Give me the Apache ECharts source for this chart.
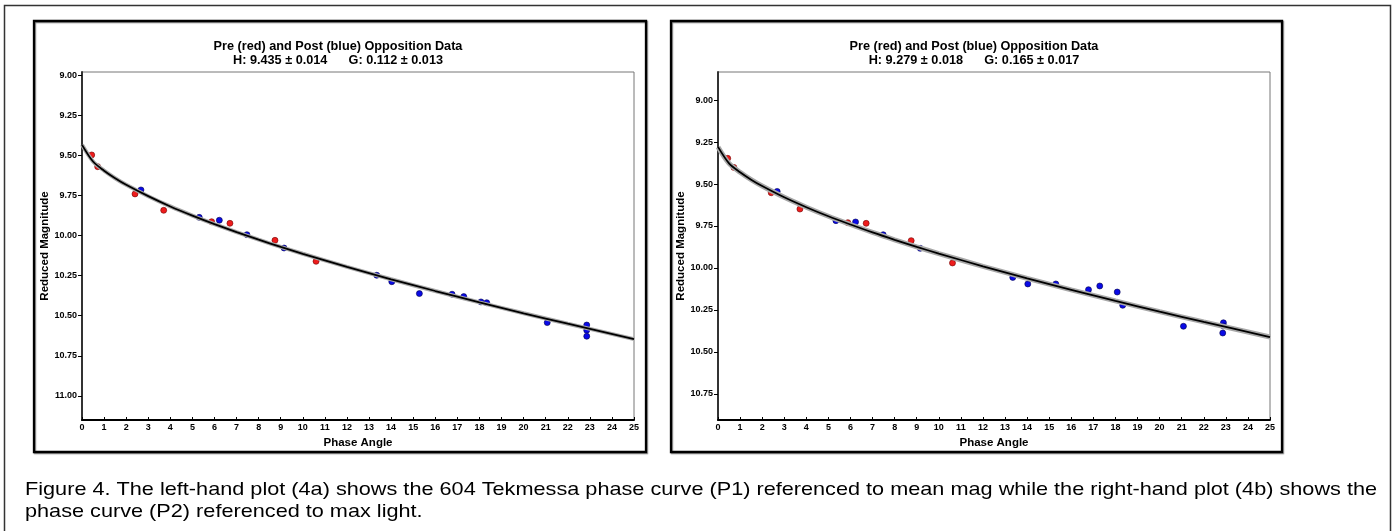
<!DOCTYPE html>
<html>
<head>
<meta charset="utf-8">
<script src="https://cdn.jsdelivr.net/npm/echarts@6.0.0/dist/echarts.min.js"></script>
<style>
html,body{margin:0;padding:0;background:#fff}
#chart{width:1395px;height:531px}
</style>
</head>
<body>
<div id="chart"></div>
<script>
// phase angle (deg), reduced magnitude
var leftPre = [[0.44,9.498],[0.71,9.571],[2.40,9.741],[3.70,9.843],[5.87,9.914],[6.70,9.924],[8.74,10.030],[10.60,10.161]];
var leftPost = [[2.67,9.716],[5.31,9.887],[6.22,9.905],[7.47,9.995],[9.15,10.078],[13.35,10.248],[14.03,10.288],[15.28,10.362],[16.76,10.366],[17.29,10.381],[18.07,10.414],[18.33,10.419],[21.07,10.543],[22.86,10.558],[22.86,10.591],[22.86,10.628]];
var rightPre = [[0.44,9.347],[0.72,9.401],[2.41,9.552],[3.71,9.649],[5.88,9.730],[6.71,9.734],[8.75,9.837],[10.62,9.970]];
var rightPost = [[2.68,9.544],[5.34,9.718],[6.23,9.726],[7.48,9.802],[9.16,9.883],[13.35,10.056],[14.03,10.095],[15.30,10.095],[16.78,10.129],[17.29,10.107],[18.08,10.143],[18.33,10.222],[21.08,10.347],[22.89,10.326],[22.89,10.345],[22.86,10.387]];

// fitted phase curves
var fitAngles = [0,0.5,1,1.5,2,3,4,5,6,7,8,9,10,12,14,16,18,20,22,25];
var leftFit = [9.435,9.539,9.596,9.643,9.684,9.755,9.819,9.876,9.929,9.979,10.026,10.071,10.114,10.196,10.273,10.346,10.417,10.485,10.550,10.646];
var rightFit = [9.279,9.377,9.430,9.474,9.512,9.579,9.638,9.692,9.741,9.788,9.832,9.874,9.914,9.990,10.062,10.130,10.196,10.260,10.321,10.411];

var leftYTicks = [9.00,9.25,9.50,9.75,10.00,10.25,10.50,10.75,11.00];
var rightYTicks = [9.00,9.25,9.50,9.75,10.00,10.25,10.50,10.75];

var leftTitle = ['Pre (red) and Post (blue) Opposition Data', 'H: 9.435 \u00b1 0.014      G: 0.112 \u00b1 0.013'];
var rightTitle = ['Pre (red) and Post (blue) Opposition Data', 'H: 9.279 \u00b1 0.018      G: 0.165 \u00b1 0.017'];
var caption = ['Figure 4. The left-hand plot (4a) shows the 604 Tekmessa phase curve (P1) referenced to mean mag while the right-hand plot (4b) shows the',
               'phase curve (P2) referenced to max light.'];

var FONT = '"Liberation Sans", Arial, sans-serif';

function pairUp(xs, ys) {
    var out = [];
    for (var i = 0; i < xs.length; i++) {
        out.push([xs[i], ys[i]]);
    }
    return out;
}

function makeX(idx) {
    return {
        type: 'value', gridIndex: idx, min: 0, max: 25, interval: 1,
        name: 'Phase Angle', nameLocation: 'middle', nameGap: 13,
        nameTextStyle: { fontFamily: FONT, fontWeight: 'bold', fontSize: 11.5, color: '#000' },
        axisLine: { show: true, onZero: false, lineStyle: { color: '#000', width: 2 } },
        axisTick: { show: true, inside: true, length: 3, lineStyle: { color: '#000', width: 1 } },
        axisLabel: { fontFamily: FONT, fontWeight: 'bold', fontSize: 9, color: '#000', margin: 3 },
        splitLine: { show: false }
    };
}

function makeY(idx, min, max, ticks) {
    return {
        type: 'value', gridIndex: idx, inverse: true, min: min, max: max,
        name: 'Reduced Magnitude', nameLocation: 'middle', nameGap: 29,
        nameTextStyle: { fontFamily: FONT, fontWeight: 'bold', fontSize: 11.5, color: '#000' },
        axisLine: { show: true, onZero: false, lineStyle: { color: '#333', width: 2 } },
        axisTick: { show: true, inside: false, length: 4, customValues: ticks, lineStyle: { color: '#000', width: 1 } },
        axisLabel: {
            fontFamily: FONT, fontWeight: 'bold', fontSize: 9, color: '#000', margin: 5,
            customValues: ticks,
            formatter: function (v) { return v.toFixed(2); }
        },
        splitLine: { show: false }
    };
}

function fitSeries(idx, data, halo) {
    return [{
        type: 'line', xAxisIndex: idx, yAxisIndex: idx, data: data, showSymbol: false,
        smooth: 0.3, silent: true, lineStyle: { color: '#a8a8a8', width: halo }
    }, {
        type: 'line', xAxisIndex: idx, yAxisIndex: idx, data: data, showSymbol: false,
        smooth: 0.3, silent: true, lineStyle: { color: '#000', width: 1.8 }
    }];
}

function dotSeries(idx, data, fill, edge) {
    return {
        type: 'scatter', xAxisIndex: idx, yAxisIndex: idx, data: data,
        symbol: 'circle', symbolSize: 6,
        itemStyle: { color: fill, borderColor: edge, borderWidth: 0.6, opacity: 1 }
    };
}

function titleText(cx, lines) {
    return [{
        type: 'text', x: cx, y: 46.5,
        style: { text: lines[0], fill: '#000', font: 'bold 12.7px ' + FONT, textAlign: 'center', textVerticalAlign: 'middle' }
    }, {
        type: 'text', x: cx, y: 60.5,
        style: { text: lines[1], fill: '#000', font: 'bold 12.7px ' + FONT, textAlign: 'center', textVerticalAlign: 'middle' }
    }];
}

var chart = echarts.init(document.getElementById('chart'));

var series = [];
series = series.concat(fitSeries(0, pairUp(fitAngles, leftFit), 4));
series = series.concat(fitSeries(1, pairUp(fitAngles, rightFit), 5));
series.push(dotSeries(0, leftPre, '#ee1c1c', '#700000'));
series.push(dotSeries(0, leftPost, '#0a0ae6', '#00004a'));
series.push(dotSeries(1, rightPre, '#ee1c1c', '#700000'));
series.push(dotSeries(1, rightPost, '#0a0ae6', '#00004a'));

var graphics = [
    // outer figure frame
    { type: 'rect', shape: { x: 4.5, y: 5.5, width: 1386, height: 600 }, style: { fill: 'none', stroke: '#333', lineWidth: 1.5 } },
    // panel frames
    { type: 'rect', shape: { x: 34, y: 21, width: 612, height: 431 },
      style: { fill: 'none', stroke: '#000', lineWidth: 2.3, shadowColor: 'rgba(0,0,0,0.45)', shadowBlur: 1, shadowOffsetX: 1, shadowOffsetY: 1 } },
    { type: 'rect', shape: { x: 671, y: 21, width: 611, height: 431 },
      style: { fill: 'none', stroke: '#000', lineWidth: 2.3, shadowColor: 'rgba(0,0,0,0.45)', shadowBlur: 1, shadowOffsetX: 1, shadowOffsetY: 1 } },
    // caption
    { type: 'text', x: 25, y: 490, scaleX: 1.141,
      style: { text: caption[0], fill: '#000', font: '19px ' + FONT, textAlign: 'left', textVerticalAlign: 'middle' } },
    { type: 'text', x: 25, y: 512, scaleX: 1.141,
      style: { text: caption[1], fill: '#000', font: '19px ' + FONT, textAlign: 'left', textVerticalAlign: 'middle' } }
];
graphics = graphics.concat(titleText(338, leftTitle)).concat(titleText(974, rightTitle));

var option = {
    animation: false,
    backgroundColor: '#fff',
    grid: [
        { left: 82, top: 72, width: 552, height: 348, show: true, borderColor: '#777', borderWidth: 1, backgroundColor: '#fff' },
        { left: 718, top: 72, width: 552, height: 348, show: true, borderColor: '#777', borderWidth: 1, backgroundColor: '#fff' }
    ],
    xAxis: [makeX(0), makeX(1)],
    yAxis: [makeY(0, 8.981, 11.15, leftYTicks), makeY(1, 8.833, 10.905, rightYTicks)],
    series: series,
    graphic: graphics
};

chart.setOption(option);
</script>
</body>
</html>
